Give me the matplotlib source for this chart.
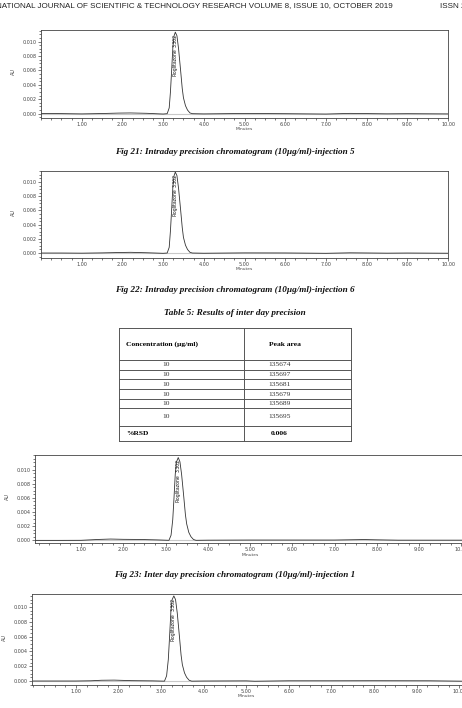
import matplotlib.pyplot as plt
from matplotlib.ticker import MultipleLocator, FormatStrFormatter
import numpy as np

W, H = 462, 708

# page text
header_left = "INTERNATIONAL JOURNAL OF SCIENTIFIC & TECHNOLOGY RESEARCH VOLUME 8, ISSUE 10, OCTOBER 2019"
header_right = "ISSN 2277-8616"
captions = [
    "Fig 21: Intraday precision chromatogram (10µg/ml)-injection 5",
    "Fig 22: Intraday precision chromatogram (10µg/ml)-injection 6",
    "Fig 23: Inter day precision chromatogram (10µg/ml)-injection 1",
]
table_title = "Table 5: Results of inter day precision"
table_header = ["Concentration (µg/ml)", "Peak area"]
concentrations = ["10", "10", "10", "10", "10", "10"]
peak_areas = ["135674", "135697", "135681", "135679", "135689", "135695"]
rsd_label = "%RSD"
rsd_value = "0.006"
peak_labels = ["3.302", "Pioglitazone"]

# chromatogram traces (minutes, AU)
t1 = [0.0, 0.5, 1.0, 1.5, 1.9, 2.2, 2.6, 3.0, 3.10, 3.15, 3.18, 3.21, 3.24, 3.27, 3.30, 3.34,
      3.38, 3.43, 3.47, 3.50, 3.55, 3.60, 3.66, 3.72, 4.0, 5.0, 6.0, 7.0, 7.6, 8.5, 9.0, 10.0]
y1 = [0.00002, 0.00001, -0.00003, 0.00002, 0.00008, 0.0001, 0.00005, -0.00005, 0.0, 0.0008,
      0.0030, 0.0060, 0.0092, 0.0108, 0.0113, 0.0108, 0.0090, 0.0060, 0.0035, 0.0022, 0.0011,
      0.0005, 0.0001, 0.0, -0.00003, 0.00003, 0.0, -0.00005, 0.00004, -0.00002, 0.0, -0.00003]

t2 = [0.0, 0.5, 1.0, 1.5, 1.9, 2.2, 2.6, 3.0, 3.10, 3.15, 3.18, 3.21, 3.24, 3.27, 3.30, 3.34,
      3.38, 3.43, 3.47, 3.50, 3.55, 3.60, 3.66, 3.72, 4.0, 5.0, 6.0, 7.0, 7.6, 8.5, 9.0, 10.0]
y2 = [0.0, 0.0, -0.00002, 0.00002, 0.00007, 0.0001, 0.00004, -0.00004, 0.0, 0.0008,
      0.0031, 0.0061, 0.0093, 0.0109, 0.0114, 0.0109, 0.0091, 0.0061, 0.0036, 0.0022, 0.0011,
      0.0005, 0.0001, 0.0, -0.00003, 0.00002, 0.00001, -0.00004, 0.00003, -0.00002, 0.0, -0.00003]

t3 = [-0.1, 0.5, 1.0, 1.4, 1.7, 2.0, 2.4, 2.8, 3.08, 3.13, 3.17, 3.20, 3.23, 3.26, 3.30, 3.34,
      3.38, 3.43, 3.47, 3.50, 3.55, 3.60, 3.66, 3.72, 4.0, 5.0, 6.0, 7.0, 7.7, 8.0, 8.5, 9.5, 10.3]
y3 = [-0.00003, -0.00003, -0.00002, 0.0001, 0.00016, 0.00012, 0.0001, 0.00004, -0.00002, 0.0007,
      0.0029, 0.0060, 0.0094, 0.0111, 0.0117, 0.0111, 0.0093, 0.0062, 0.0036, 0.0023, 0.0011,
      0.0005, 0.0001, -0.00002, 0.0, 0.00002, 0.00002, 0.00002, 0.00009, 0.00005, 0.0, 0.0, 0.0]

t4 = [0.0, 0.5, 1.0, 1.35, 1.6, 1.9, 2.3, 2.8, 3.08, 3.13, 3.17, 3.20, 3.23, 3.26, 3.30, 3.34,
      3.38, 3.43, 3.47, 3.50, 3.55, 3.60, 3.66, 3.72, 4.0, 5.0, 5.2, 6.0, 7.0, 8.0, 9.3, 10.3]
y4 = [0.0, 0.0, 0.0, 0.00003, 0.0001, 0.00012, 0.00005, 0.00002, -0.00002, 0.0007,
      0.0029, 0.0060, 0.0093, 0.0110, 0.0115, 0.0110, 0.0092, 0.0061, 0.0035, 0.0022, 0.0011,
      0.0005, 0.0001, -0.00002, 0.0, 0.00002, -0.00003, 0.00003, 0.00003, 0.00004, 0.00003, -0.00004]

# axes boxes in pixels: left, top, right, bottom, xlim, ylim, minutes label y
charts = [
    (t1, y1, (41, 30, 448, 118), (0.0, 10.0), (-0.0006, 0.0116), 129),
    (t2, y2, (41, 171, 448, 258), (0.0, 10.0), (-0.0007, 0.01155), 269),
    (t3, y3, (35, 455, 474, 543), (-0.09, 10.3), (-0.0004, 0.01206), 555),
    (t4, y4, (32, 594, 472, 685), (-0.03, 10.3), (-0.00054, 0.01176), 696),
]
y_ticks = [0.0, 0.002, 0.004, 0.006, 0.008, 0.010]
x_ticks = [1, 2, 3, 4, 5, 6, 7, 8, 9, 10]

fig = plt.figure(figsize=(W / 100, H / 100), dpi=100)
fig.patch.set_facecolor('white')


def px_axes(l, t, r, b):
    return fig.add_axes([l / W, 1 - b / H, (r - l) / W, (b - t) / H])


for tt, yy, box, xl, yl, mlab in charts:
    ax = px_axes(*box)
    ax.axhline(0, color='#c8c8c8', lw=0.8, zorder=1)
    ax.plot(tt, yy, color='#333333', lw=0.6, zorder=2)
    ax.set_xlim(*xl)
    ax.set_ylim(*yl)
    for s in ax.spines.values():
        s.set_linewidth(0.6)
        s.set_color('#444444')
    ax.set_xticks(x_ticks)
    ax.set_yticks(y_ticks)
    ax.xaxis.set_minor_locator(MultipleLocator(0.25))
    ax.yaxis.set_minor_locator(MultipleLocator(0.0005))
    ax.xaxis.set_major_formatter(FormatStrFormatter('%.2f'))
    ax.yaxis.set_major_formatter(FormatStrFormatter('%.3f'))
    ax.tick_params(which='major', length=2, width=0.5, labelsize=3.5, pad=1.0,
                   colors='#444444')
    ax.tick_params(which='minor', length=1.2, width=0.5, colors='#444444')
    # "Minutes" sits just under the 5.00 tick label
    fig.text((box[0] + (5.0 - xl[0]) / (xl[1] - xl[0]) * (box[2] - box[0])) / W, 1 - mlab / H,
             "Minutes", fontsize=3.2, ha='center', va='center', color='#444444')
    fig.text((box[0] - 28) / W, 1 - ((box[1] + box[3]) / 2 - 2) / H, "AU", fontsize=3.6,
             rotation=90, ha='center', va='center', color='#444444')
    # peak annotations
    pk = int(np.argmax(yy))
    ax.text(tt[pk] - 0.01, yy[pk] * 0.98, peak_labels[0], rotation=90, fontsize=3.3,
            ha='center', va='top', color='#111111')
    ax.text(tt[pk] - 0.01, yy[pk] * 0.80, peak_labels[1], rotation=90, fontsize=3.3,
            ha='center', va='top', color='#111111')

# header (cut at the page edges like the scan)
fig.text(393 / W, 1 - 6 / H, header_left, fontsize=5.8, family='Liberation Sans',
         ha='right', va='center', color='#222222')
fig.text(440 / W, 1 - 6 / H, header_right, fontsize=5.8, family='Liberation Sans',
         ha='left', va='center', color='#222222')

# captions
cap_y = [152, 290, 575]
for c, yc in zip(captions, cap_y):
    fig.text(235 / W, 1 - yc / H, c, fontsize=6.6, family='Liberation Serif',
             style='italic', weight='bold', ha='center', va='center', color='#111111')
fig.text(235 / W, 1 - 313 / H, table_title, fontsize=6.6, family='Liberation Serif',
         style='italic', weight='bold', ha='center', va='center', color='#111111')

# table
tab = fig.add_axes([0, 0, 1, 1])
tab.set_xlim(0, W)
tab.set_ylim(H, 0)
tab.axis('off')
row_edges = [328, 360, 370, 379, 389, 399, 408, 426, 441]
col_edges = [119, 244, 351]
for yv in row_edges:
    tab.plot([col_edges[0], col_edges[-1]], [yv, yv], color='#555555', lw=0.7)
for xv in col_edges:
    tab.plot([xv, xv], [row_edges[0], row_edges[-1]], color='#555555', lw=0.7)
tab.text(126, 344, table_header[0], fontsize=5.4, family='Liberation Serif', weight='bold',
         ha='left', va='center')
tab.text(285, 344, table_header[1], fontsize=5.4, family='Liberation Serif', weight='bold',
         ha='center', va='center')
for i, (c, a) in enumerate(zip(concentrations, peak_areas)):
    yc = (row_edges[i + 1] + row_edges[i + 2]) / 2
    tab.text(166, yc, c, fontsize=5.4, family='Liberation Serif', ha='center', va='center',
             color='#333333')
    tab.text(280, yc, a, fontsize=5.4, family='Liberation Serif', ha='center', va='center',
             color='#333333')
yc = (row_edges[-2] + row_edges[-1]) / 2
tab.text(126, yc, rsd_label, fontsize=5.4, family='Liberation Serif', weight='bold',
         ha='left', va='center')
tab.text(279, yc, rsd_value, fontsize=5.4, family='Liberation Serif', weight='bold',
         ha='center', va='center')

fig.savefig('out.png', dpi=100)
